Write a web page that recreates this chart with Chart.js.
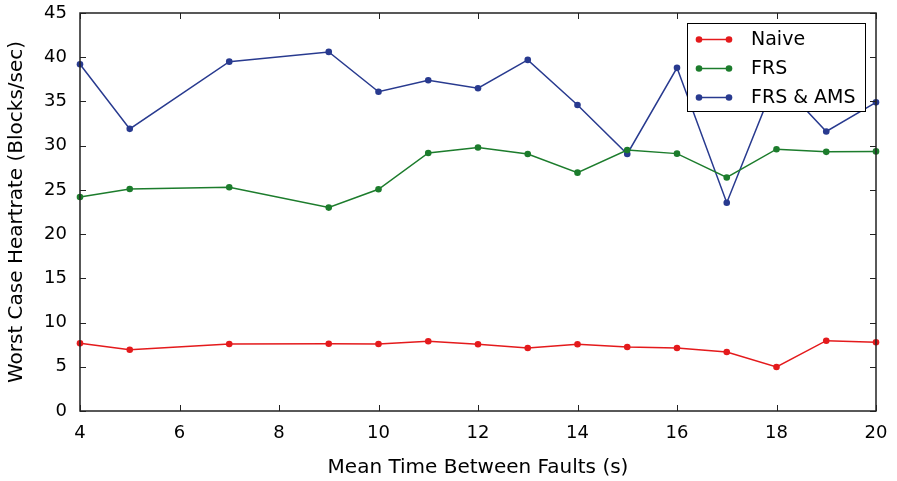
<!DOCTYPE html>
<html>
<head>
<meta charset="utf-8">
<script src="https://cdn.jsdelivr.net/npm/chart.js@4"></script>
<style>
  html, body { margin: 0; padding: 0; background: #fff; }
  #wrap { width: 897px; height: 481px; }
</style>
</head>
<body>
<div id="wrap"><canvas id="heartChart" width="897" height="481"></canvas></div>
<script>
// mean time between faults (s)
const mtbf = [4, 5, 7, 9, 10, 11, 12, 13, 14, 15, 16, 17, 18, 19, 20];

// worst case heartrate (blocks/sec)
const naive = [7.65, 6.93, 7.58, 7.61, 7.58, 7.88, 7.54, 7.12, 7.54, 7.24, 7.12, 6.67, 4.98, 7.95, 7.77];
const frs = [24.2, 25.1, 25.3, 23.0, 25.07, 29.17, 29.8, 29.06, 26.95, 29.5, 29.1, 26.4, 29.6, 29.3, 29.35];
const frsAms = [39.2, 31.9, 39.5, 40.6, 36.1, 37.4, 36.5, 39.7, 34.6, 29.06, 38.8, 23.55, 37.6, 31.6, 34.9];

const seriesNames = ['Naive', 'FRS', 'FRS & AMS'];
const seriesColors = ['#e41a1c', '#1c7c2c', '#283a8f'];

const xTicks = [4, 6, 8, 10, 12, 14, 16, 18, 20];
const yTicks = [0, 5, 10, 15, 20, 25, 30, 35, 40, 45];

const FONT = 'DejaVu Sans';

const toPoints = vals => vals.map((v, i) => ({ x: mtbf[i], y: v }));

// ticks pointing inward on all four sides plus the box frame
const frameTicks = {
    id: 'frameTicks',
    afterDraw(chart) {
        const { ctx, chartArea: a, scales } = chart;
        const len = 6;
        ctx.save();
        ctx.strokeStyle = '#222';
        ctx.lineWidth = 1;
        ctx.beginPath();
        xTicks.forEach(t => {
            const px = Math.round(scales.x.getPixelForValue(t)) + 0.5;
            ctx.moveTo(px, a.bottom); ctx.lineTo(px, a.bottom - len);
            ctx.moveTo(px, a.top); ctx.lineTo(px, a.top + len);
        });
        yTicks.forEach(t => {
            const py = Math.round(scales.y.getPixelForValue(t)) + 0.5;
            ctx.moveTo(a.left, py); ctx.lineTo(a.left + len, py);
            ctx.moveTo(a.right, py); ctx.lineTo(a.right - len, py);
        });
        ctx.stroke();
        ctx.lineWidth = 1.5;
        ctx.strokeRect(a.left, a.top, a.right - a.left, a.bottom - a.top);
        ctx.restore();
    }
};

// matplotlib style legend box in the upper right, drawn over the lines
const boxLegend = {
    id: 'boxLegend',
    afterDatasetsDraw(chart) {
        const ctx = chart.ctx;
        const x0 = 687, y0 = 23, w = 178, h = 88;
        ctx.save();
        ctx.fillStyle = '#fff';
        ctx.fillRect(x0, y0, w, h);
        ctx.strokeStyle = '#000';
        ctx.lineWidth = 1;
        ctx.strokeRect(x0 + 0.5, y0 + 0.5, w, h);
        ctx.font = '19px "' + FONT + '"';
        ctx.textBaseline = 'middle';
        chart.data.datasets.forEach((ds, i) => {
            const y = 39.5 + i * 29;
            ctx.strokeStyle = ds.borderColor;
            ctx.fillStyle = ds.borderColor;
            ctx.lineWidth = 1.5;
            ctx.beginPath();
            ctx.moveTo(699, y); ctx.lineTo(729, y);
            ctx.stroke();
            [699, 729].forEach(mx => {
                ctx.beginPath();
                ctx.arc(mx, y, 3.3, 0, Math.PI * 2);
                ctx.fill();
            });
            ctx.fillStyle = '#000';
            ctx.fillText(ds.label, 751, y + 1);
        });
        ctx.restore();
    }
};

const datasets = [naive, frs, frsAms].map((vals, i) => ({
    label: seriesNames[i],
    data: toPoints(vals),
    borderColor: seriesColors[i],
    backgroundColor: seriesColors[i],
    borderWidth: 1.5,
    pointRadius: 3.3,
    pointBorderWidth: 0,
    tension: 0
}));

new Chart(document.getElementById('heartChart'), {
    type: 'line',
    data: { datasets },
    options: {
        responsive: false,
        animation: false,
        clip: false,
        layout: { padding: { left: 0, right: 21, top: 13, bottom: 0 } },
        plugins: {
            legend: { display: false },
            tooltip: { enabled: false }
        },
        scales: {
            x: {
                type: 'linear',
                min: 4,
                max: 20,
                afterBuildTicks: s => { s.ticks = xTicks.map(v => ({ value: v })); },
                afterFit: s => { s.height = 70; s.paddingLeft = 0; s.paddingRight = 0; },
                grid: { display: false, drawTicks: false },
                border: { display: false },
                ticks: {
                    color: '#000',
                    padding: 12,
                    font: { family: FONT, size: 18 }
                },
                title: {
                    display: true,
                    text: 'Mean Time Between Faults (s)',
                    color: '#000',
                    font: { family: FONT, size: 20 },
                    padding: { top: 6, bottom: 1 }
                }
            },
            y: {
                min: 0,
                max: 45,
                afterBuildTicks: s => { s.ticks = yTicks.map(v => ({ value: v })); },
                afterFit: s => { s.width = 80; s.paddingTop = 0; s.paddingBottom = 0; },
                grid: { display: false, drawTicks: false },
                border: { display: false },
                ticks: {
                    color: '#000',
                    padding: 13,
                    font: { family: FONT, size: 18 }
                },
                title: {
                    display: true,
                    text: 'Worst Case Heartrate (Blocks/sec)',
                    color: '#000',
                    font: { family: FONT, size: 20 },
                    padding: { bottom: 0, top: 5 }
                }
            }
        }
    },
    plugins: [frameTicks, boxLegend]
});
</script>
</body>
</html>
